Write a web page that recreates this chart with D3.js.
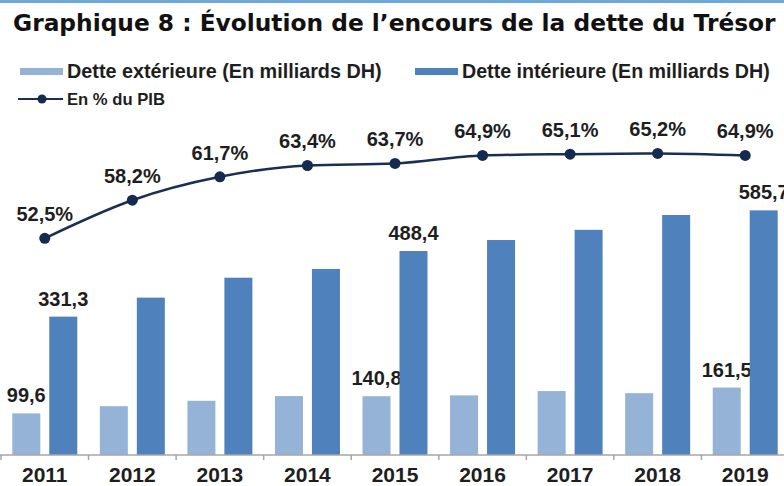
<!DOCTYPE html>
<html>

<head>
	<title>Graphique 8</title>
	<meta charset="utf-8">
	<script src="https://d3js.org/d3.v7.min.js"></script>
	<style>
		body {
			margin: 0;
			background-color: #fff;
		}
		.title {
			font-family: 'DejaVu Sans', sans-serif;
			font-weight: bold;
			fill: #111;
		}
		.legend-text, .value, .year {
			font-family: 'Liberation Sans', Arial, sans-serif;
			font-weight: bold;
			fill: #1e1e1e;
		}
		.ext {
			fill: #95b3d7;
		}
		.int {
			fill: #4f81bd;
		}
		.pib-line {
			fill: none;
			stroke: #1b2f52;
			stroke-width: 2.5;
		}
		.pib-dot {
			fill: #142a4e;
		}
	</style>
</head>

<body>
	<div id="chart"></div>
</body>

<script>

	// Data.
	const years = ['2011', '2012', '2013', '2014', '2015', '2016', '2017', '2018', '2019'];
	const detteExterieure = [99.6, 116.9, 129.8, 141.1, 140.8, 142.8, 153.1, 148.0, 161.5];
	const detteInterieure = [331.3, 376.8, 424.5, 445.5, 488.4, 514.7, 539.1, 574.6, 585.7];
	const pctPib = [52.5, 58.2, 61.7, 63.4, 63.7, 64.9, 65.1, 65.2, 64.9];
	// Only some bars carry a value label.
	const labeledYears = ['2011', '2015', '2019'];

	const width = 784;
	const height = 486;
	const baseline = 455;

	const fmt = v => d3.format('.1f')(v).replace('.', ',');

	const svg = d3.select('#chart')
		.append('svg')
			.attr('width', width)
			.attr('height', height);

	// Thin blue strip on top of the page.
	svg.append('rect')
		.attr('x', 0).attr('y', 0)
		.attr('width', width).attr('height', 3)
		.attr('fill', '#6fa8dc');

	// Shrink or grow a text so it spans the given width.
	function fitText(sel, w) {
		const fs = parseFloat(sel.attr('font-size'));
		const cur = sel.node().getComputedTextLength();
		sel.attr('font-size', fs * w / cur);
	}

	const title = svg.append('text')
		.attr('class', 'title')
		.attr('x', 13)
		.attr('y', 31)
		.attr('font-size', 20)
		.text('Graphique 8 : Évolution de l’encours de la dette du Trésor');
	fitText(title, 763);

	// Scales.
	const x0 = d3.scaleBand()
		.domain(years)
		.range([1, 789]);

	const x1 = d3.scaleBand()
		.domain(['ext', 'int'])
		.range([0, x0.bandwidth()])
		.paddingInner(0.243)
		.paddingOuter(0.305);

	const yBar = d3.scaleLinear()
		.domain([0, 600])
		.range([baseline, 204.4]);

	const yPct = d3.scaleLinear()
		.domain([50, 70])
		.range([255, 121.4]);

	const rows = years.map((year, i) => ({
		year: year,
		ext: detteExterieure[i],
		int: detteInterieure[i],
		pct: pctPib[i],
	}));

	// Bars.
	const groups = svg.append('g')
		.selectAll('g')
		.data(rows)
		.join('g')
			.attr('transform', d => 'translate(' + x0(d.year) + ',0)');

	['ext', 'int'].forEach(key => {
		groups.append('rect')
			.attr('class', key)
			.attr('x', x1(key))
			.attr('width', x1.bandwidth())
			.attr('y', d => yBar(d[key]))
			.attr('height', d => baseline - yBar(d[key]));

		groups.filter(d => labeledYears.includes(d.year))
			.append('text')
			.attr('class', 'value')
			.attr('font-size', 20)
			.attr('text-anchor', 'middle')
			.attr('x', x1(key) + x1.bandwidth() / 2)
			.attr('y', d => yBar(d[key]) - 11)
			.text(d => fmt(d[key]));
	});

	// X axis: grey line, ticks between the years, labels below.
	const axis = svg.append('g');
	axis.append('line')
		.attr('x1', 0).attr('x2', width)
		.attr('y1', baseline).attr('y2', baseline)
		.attr('stroke', '#a6a6a6')
		.attr('stroke-width', 1.5);
	axis.selectAll('.tick')
		.data(years)
		.join('line')
			.attr('class', 'tick')
			.attr('x1', d => x0(d)).attr('x2', d => x0(d))
			.attr('y1', baseline).attr('y2', baseline + 5)
			.attr('stroke', '#a6a6a6')
			.attr('stroke-width', 1.5);
	axis.selectAll('.year')
		.data(years)
		.join('text')
			.attr('class', 'year')
			.attr('font-size', 21)
			.attr('text-anchor', 'middle')
			.attr('x', d => x0(d) + x0.bandwidth() / 2)
			.attr('y', 482)
			.text(d => d);

	// Line for % of GDP.
	const cx = d => x0(d.year) + x0.bandwidth() / 2;
	const line = d3.line()
		.x(cx)
		.y(d => yPct(d.pct))
		.curve(d3.curveMonotoneX);

	svg.append('path')
		.datum(rows)
		.attr('class', 'pib-line')
		.attr('d', line);

	svg.append('g')
		.selectAll('circle')
		.data(rows)
		.join('circle')
			.attr('class', 'pib-dot')
			.attr('r', 5.5)
			.attr('cx', cx)
			.attr('cy', d => yPct(d.pct));

	svg.append('g')
		.selectAll('text')
		.data(rows)
		.join('text')
			.attr('class', 'value')
			.attr('font-size', 20)
			.attr('text-anchor', 'middle')
			.attr('x', cx)
			.attr('y', d => yPct(d.pct) - 17)
			.text(d => fmt(d.pct) + '%');

	// Legend.
	const legend = svg.append('g');
	const legendItems = [
		{cls: 'ext', x: 20, text: 'Dette extérieure (En milliards DH)', w: 315},
		{cls: 'int', x: 415, text: 'Dette intérieure (En milliards DH)', w: 308},
	];
	legendItems.forEach(item => {
		legend.append('rect')
			.attr('class', item.cls)
			.attr('x', item.x).attr('y', 68)
			.attr('width', 43).attr('height', 7);
		const t = legend.append('text')
			.attr('class', 'legend-text')
			.attr('x', item.x + 47)
			.attr('y', 78)
			.attr('font-size', 18)
			.text(item.text);
		fitText(t, item.w);
	});

	legend.append('line')
		.attr('x1', 18).attr('x2', 63)
		.attr('y1', 99).attr('y2', 99)
		.attr('stroke', '#1b2f52')
		.attr('stroke-width', 2);
	legend.append('circle')
		.attr('class', 'pib-dot')
		.attr('cx', 42).attr('cy', 99)
		.attr('r', 4.5);
	const pibText = legend.append('text')
		.attr('class', 'legend-text')
		.attr('x', 67)
		.attr('y', 105)
		.attr('font-size', 18)
		.text('En % du PIB');
	fitText(pibText, 98);

</script>

</html>
